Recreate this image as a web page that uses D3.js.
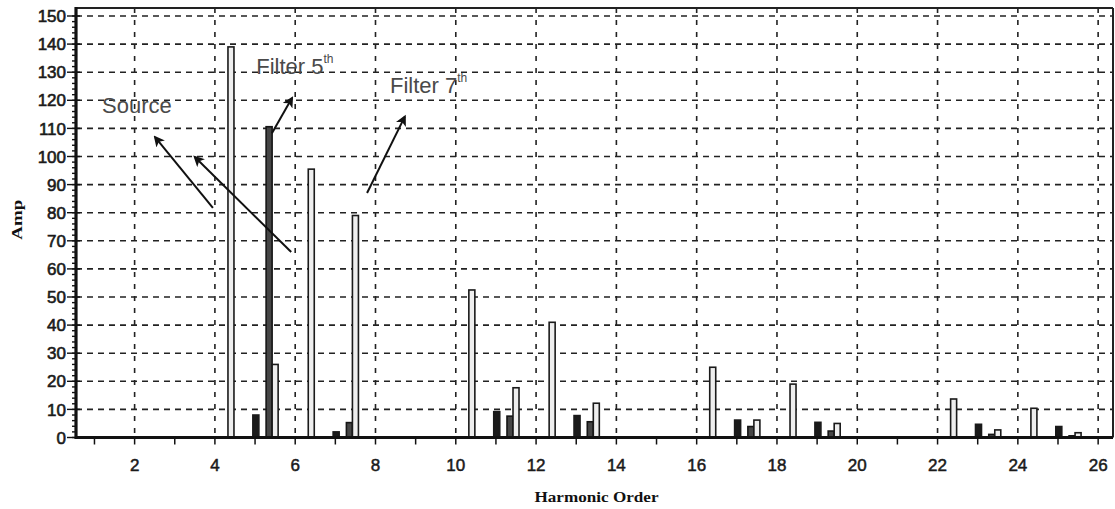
<!DOCTYPE html>
<html>
<head>
<meta charset="utf-8">
<script src="https://cdn.jsdelivr.net/npm/d3@7"></script>
<style>
  html, body { margin: 0; padding: 0; background: #fff; }
  svg { display: block; }
</style>
</head>
<body>
<svg id="chart" width="1115" height="509"></svg>
<script>
// Harmonic orders and the four measured currents at each order
const harmonics = [5, 7, 11, 13, 17, 19, 23, 25];
const sourceNoFilter = [139, 95.5, 52.5, 41, 25, 19, 13.7, 10.4];
const sourceWithFilter = [8, 2, 9.2, 7.8, 6.2, 5.4, 4.7, 3.9];
const filter5th = [110.6, 5.3, 7.6, 5.6, 3.9, 2.3, 1.1, 0.6];
const filter7th = [26, 79, 17.7, 12.2, 6.2, 5, 2.7, 1.7];

// Axis ticks
const yTicks = d3.range(0, 151, 10);
const xLabelTicks = d3.range(2, 27, 2);
const xMinorTicks = d3.range(1, 27, 1);

// Annotations: label text, label position, arrows (tail -> head) in data units
const annotations = [
  { text: "Source", sup: "", x: 1.19, y: 115.5 },
  { text: "Filter 5", sup: "th", x: 5.03, y: 129.4 },
  { text: "Filter 7", sup: "th", x: 8.36, y: 122.6 }
];
const arrows = [
  { x1: 3.95, y1: 81.7, x2: 2.51, y2: 106.9 },
  { x1: 5.90, y1: 66.0, x2: 3.50, y2: 99.8 },
  { x1: 5.42, y1: 108.3, x2: 5.92, y2: 120.8 },
  { x1: 7.79, y1: 87.0, x2: 8.73, y2: 114.2 }
];

const series = [
  { name: "sourceNoFilter", values: sourceNoFilter, offset: -0.6, fill: "#eeeeee", stroke: "#1a1a1a" },
  { name: "sourceWithFilter", values: sourceWithFilter, offset: 0.02, fill: "#1a1a1a", stroke: "#1a1a1a" },
  { name: "filter5th", values: filter5th, offset: 0.35, fill: "#454545", stroke: "#151515" },
  { name: "filter7th", values: filter7th, offset: 0.5, fill: "#eeeeee", stroke: "#1a1a1a" }
];

const svg = d3.select("#chart");
const plotLeft = 76, plotRight = 1113, plotTop = 8, plotBottom = 437.5;

const x = d3.scaleLinear().domain([0.54, 26.37]).range([plotLeft, plotRight]);
const y = d3.scaleLinear().domain([0, 150]).range([plotBottom, 16]);

const defs = svg.append("defs");
defs.append("marker")
  .attr("id", "arrowhead")
  .attr("viewBox", "0 0 10 10")
  .attr("refX", 8).attr("refY", 5)
  .attr("markerWidth", 5.5).attr("markerHeight", 5.5)
  .attr("orient", "auto")
  .append("path").attr("d", "M0,0 L10,5 L0,10 L2.5,5 Z").attr("fill", "#111");

// Grid
const grid = svg.append("g").attr("class", "grid");
grid.selectAll("line.h").data(yTicks.filter(d => d > 0)).join("line")
  .attr("class", "h")
  .attr("x1", plotLeft).attr("x2", plotRight)
  .attr("y1", d => y(d)).attr("y2", d => y(d))
  .attr("stroke", "#222").attr("stroke-width", 1.6)
  .attr("stroke-dasharray", "6,5");
grid.selectAll("line.v").data(xLabelTicks).join("line")
  .attr("class", "v")
  .attr("x1", d => x(d)).attr("x2", d => x(d))
  .attr("y1", plotTop).attr("y2", plotBottom)
  .attr("stroke", "#222").attr("stroke-width", 1.6)
  .attr("stroke-dasharray", "5,7");

// Bars
const barW = 6;
const bars = svg.append("g").attr("class", "bars");
series.forEach(s => {
  bars.selectAll(null).data(harmonics.map((h, i) => ({ h, v: s.values[i] }))).join("rect")
    .attr("x", d => x(d.h + s.offset) - barW / 2)
    .attr("y", d => y(d.v))
    .attr("width", barW)
    .attr("height", d => y(0) - y(d.v))
    .attr("fill", s.fill)
    .attr("stroke", s.stroke)
    .attr("stroke-width", 1.6);
});

// Frame: top and right borders
svg.append("line").attr("x1", plotLeft).attr("x2", plotRight).attr("y1", plotTop).attr("y2", plotTop)
  .attr("stroke", "#222").attr("stroke-width", 2);
svg.append("line").attr("x1", plotRight).attr("x2", plotRight).attr("y1", plotTop).attr("y2", plotBottom)
  .attr("stroke", "#222").attr("stroke-width", 2);

// Y axis
const yAxis = svg.append("g").attr("class", "y-axis");
yAxis.selectAll("line.minor").data(d3.range(0, 151, 2)).join("line")
  .attr("class", "minor")
  .attr("x1", plotLeft - 4).attr("x2", plotLeft)
  .attr("y1", d => y(d)).attr("y2", d => y(d))
  .attr("stroke", "#111").attr("stroke-width", 1.4);
yAxis.selectAll("line.major").data(yTicks).join("line")
  .attr("class", "major")
  .attr("x1", plotLeft - 9).attr("x2", plotLeft + 4)
  .attr("y1", d => y(d)).attr("y2", d => y(d))
  .attr("stroke", "#111").attr("stroke-width", 1.4);
yAxis.append("line").attr("x1", plotLeft).attr("x2", plotLeft).attr("y1", plotTop - 1).attr("y2", plotBottom + 1.5)
  .attr("stroke", "#111").attr("stroke-width", 3.2);
yAxis.selectAll("text").data(yTicks).join("text")
  .attr("x", plotLeft - 10).attr("y", d => y(d))
  .attr("dy", "0.36em")
  .attr("text-anchor", "end")
  .attr("font-family", "Liberation Sans, Arial, sans-serif")
  .attr("font-size", 17)
  .attr("fill", "#1a1a1a")
  .attr("stroke", "#1a1a1a").attr("stroke-width", 0.6)
  .text(d => d);

// X axis
const xAxis = svg.append("g").attr("class", "x-axis");
xAxis.selectAll("line.tick").data(xMinorTicks.filter(d => x(d) > plotLeft + 2)).join("line")
  .attr("class", "tick")
  .attr("x1", d => x(d)).attr("x2", d => x(d))
  .attr("y1", plotBottom).attr("y2", plotBottom + 7)
  .attr("stroke", "#111").attr("stroke-width", 1.5);
xAxis.append("line").attr("x1", plotLeft).attr("x2", plotRight).attr("y1", plotBottom).attr("y2", plotBottom)
  .attr("stroke", "#111").attr("stroke-width", 3.2);
xAxis.selectAll("text").data(xLabelTicks).join("text")
  .attr("x", d => x(d)).attr("y", plotBottom + 33)
  .attr("text-anchor", "middle")
  .attr("font-family", "Liberation Sans, Arial, sans-serif")
  .attr("font-size", 17)
  .attr("fill", "#1a1a1a")
  .attr("stroke", "#1a1a1a").attr("stroke-width", 0.5)
  .text(d => d);

// Axis titles
svg.append("text")
  .attr("transform", `translate(22, ${y(77.5)}) rotate(-90)`)
  .attr("text-anchor", "middle")
  .attr("font-family", "Liberation Serif, serif")
  .attr("font-weight", "bold")
  .attr("font-size", 15)
  .attr("textLength", 40).attr("lengthAdjust", "spacingAndGlyphs")
  .attr("fill", "#111")
  .text("Amp");
svg.append("text")
  .attr("x", (plotLeft + plotRight) / 2 + 2).attr("y", 502)
  .attr("text-anchor", "middle")
  .attr("font-family", "Liberation Serif, serif")
  .attr("font-weight", "bold")
  .attr("font-size", 15)
  .attr("textLength", 124).attr("lengthAdjust", "spacingAndGlyphs")
  .attr("fill", "#111")
  .text("Harmonic Order");

// Annotation arrows and labels
svg.append("g").selectAll("line").data(arrows).join("line")
  .attr("x1", d => x(d.x1)).attr("y1", d => y(d.y1))
  .attr("x2", d => x(d.x2)).attr("y2", d => y(d.y2))
  .attr("stroke", "#111").attr("stroke-width", 2)
  .attr("marker-end", "url(#arrowhead)");

const labels = svg.append("g").selectAll("text").data(annotations).join("text")
  .attr("x", d => x(d.x)).attr("y", d => y(d.y))
  .attr("font-family", "Liberation Sans, Arial, sans-serif")
  .attr("font-size", 22)
  .attr("fill", "#4a4a4a");
labels.append("tspan").text(d => d.text);
labels.append("tspan")
  .attr("font-size", 12)
  .attr("dy", -11)
  .text(d => d.sup);
</script>
</body>
</html>
